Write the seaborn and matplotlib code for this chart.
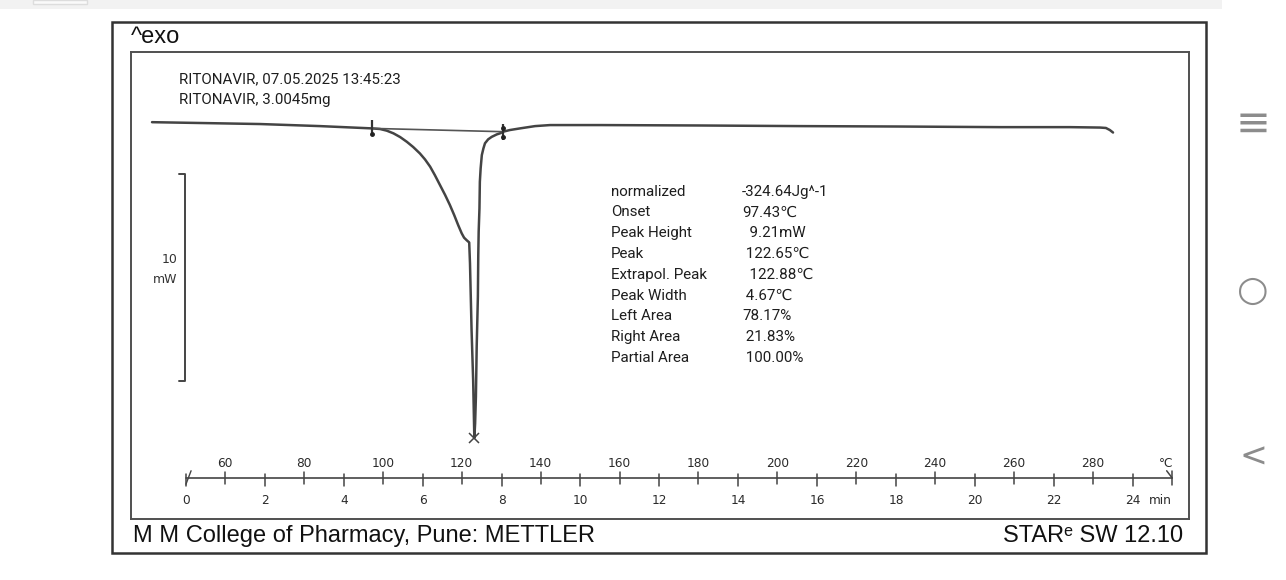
import matplotlib
matplotlib.use("Agg")
import matplotlib.pyplot as plt
import seaborn as sns
import pandas as pd
from matplotlib.patches import Rectangle

# DSC curve of ritonavir (temperature in C, heat flow in mW)
temp_c = [41.5, 53.7, 68.9, 84.1, 97.2, 99.3, 101.0, 102.7, 104.4, 106.1, 107.7, 109.4,
          110.7, 112.0, 113.2, 114.5, 115.8, 117.0, 118.1, 119.1, 120.0, 120.6, 121.3,
          121.9, 122.1, 122.5, 122.9, 123.2, 123.4, 123.6, 123.8, 124.1, 124.2, 124.3,
          124.5, 124.6, 124.8, 125.1, 125.5, 125.9, 126.7, 127.6, 128.9, 129.7, 130.5,
          132.2, 134.8, 138.6, 142.4, 155.1, 180.4, 205.8, 231.1, 256.5, 274.2, 281.8,
          283.3, 284.3, 285.1]
heat_flow_mw = [0.14, 0.10, 0.05, -0.05, -0.16, -0.19, -0.27, -0.40, -0.58, -0.81, -1.06, -1.37,
                -1.66, -2.01, -2.42, -2.90, -3.38, -3.86, -4.35, -4.83, -5.23, -5.44, -5.57,
                -5.67, -6.68, -9.90, -12.32, -15.12, -14.41, -13.13, -10.71, -8.29, -6.28, -5.15,
                -4.02, -2.74, -2.09, -1.45, -1.13, -0.88, -0.69, -0.57, -0.45, -0.40, -0.32,
                -0.24, -0.16, -0.05, 0.0, 0.0, -0.02, -0.05, -0.07, -0.10, -0.10, -0.12,
                -0.14, -0.24, -0.36]

# integration limits and peak
limit_temp = [97.2, 130.5]
limit_mw = [-0.16, -0.32]
peak_temp = 123.2
peak_mw = -15.12

# ruler: temperature and time (10 K/min from about 50.1 C)
temp_ticks = [60, 80, 100, 120, 140, 160, 180, 200, 220, 240, 260, 280]
time_ticks = [0, 2, 4, 6, 8, 10, 12, 14, 16, 18, 20, 22, 24]
start_temp = 50.1
heating_rate = 10

result_labels = ["normalized", "Onset", "Peak Height", "Peak", "Extrapol. Peak",
                 "Peak Width", "Left Area", "Right Area", "Partial Area"]
result_values = ["-324.64Jg^-1", "97.43\u2103", "  9.21mW", " 122.65\u2103", "  122.88\u2103",
                 " 4.67\u2103", "78.17%", " 21.83%", " 100.00%"]

header_lines = ["RITONAVIR, 07.05.2025 13:45:23", "RITONAVIR, 3.0045mg"]

sns.set_theme(style="white")
plt.rcParams['font.family'] = ['Roboto', 'DejaVu Sans']

W, H = 1286, 580
fig = plt.figure(figsize=(W / 100, H / 100), dpi=100)
fig.patch.set_facecolor("white")


def fx(px):
    return px / W


def fy(py):
    return 1 - py / H


# inner frame = the plotting axes
ax = fig.add_axes([fx(131), fy(519), fx(1189) - fx(131), fy(52) - fy(519)])
ax.set_xlim(36.17, 304.36)
ax.set_ylim(-19.03, 3.53)
ax.set_xticks([])
ax.set_yticks([])
for s in ax.spines.values():
    s.set_color("#505050")
    s.set_linewidth(1.4)

curve = pd.DataFrame({"temp": temp_c, "mw": heat_flow_mw})
sns.lineplot(data=curve, x="temp", y="mw", ax=ax, sort=False, estimator=None,
             color="#444444", linewidth=1.8)
ax.set_xlabel("")
ax.set_ylabel("")

# baseline between the limits and limit brackets
ax.plot(limit_temp, limit_mw, color="#555555", linewidth=1.2)
ax.plot(limit_temp, limit_mw, linestyle="none", marker="|", markersize=12,
        markeredgewidth=1.6, color="#333333")
ax.plot(limit_temp, [m - 0.25 for m in limit_mw], linestyle="none", marker="o",
        markersize=2.5, color="#222222")
ax.plot(limit_temp[1:], [limit_mw[1] + 0.2], linestyle="none", marker="o",
        markersize=2.5, color="#222222")
ax.plot([peak_temp], [peak_mw], linestyle="none", marker="x", markersize=7,
        markeredgewidth=1.1, color="#444444")

# scale bar 10 mW
bar_t = 49.9
ax.plot([bar_t - 1.6, bar_t, bar_t, bar_t - 1.6], [-2.37, -2.37, -12.37, -12.37],
        color="#444444", linewidth=1.4)
ax.text(bar_t - 1.9, -6.5, "10", ha="right", va="center", fontsize=9,
        family="DejaVu Sans", color="#333333")
ax.text(bar_t - 1.9, -7.45, "mW", ha="right", va="center", fontsize=9,
        family="DejaVu Sans", color="#333333")

# ruler
ruler_y = -17.05
end_t = start_temp + heating_rate * 25
ax.plot([start_temp, end_t], [ruler_y, ruler_y], color="#444444", linewidth=1.2)
for t in temp_ticks:
    ax.plot([t, t], [ruler_y + 0.3, ruler_y - 0.3], color="#444444", linewidth=1.1)
    ax.text(t, -16.33, str(t), ha="center", va="center", fontsize=8.7,
            family="DejaVu Sans", color="#2a2a2a")
for m in time_ticks:
    tt = start_temp + heating_rate * m
    ax.plot([tt, tt], [ruler_y + 0.2, ruler_y - 0.4], color="#444444", linewidth=1.1)
    ax.text(tt, -18.12, str(m), ha="center", va="center", fontsize=8.7,
            family="DejaVu Sans", color="#2a2a2a")
ax.plot([start_temp, start_temp + 1.3], [ruler_y - 0.3, ruler_y + 0.35], color="#444444", lw=1.0)
ax.plot([end_t, end_t], [ruler_y + 0.35, ruler_y - 0.35], color="#444444", lw=1.1)
ax.plot([end_t - 1.4, end_t], [ruler_y + 0.35, ruler_y], color="#444444", lw=1.1)
ax.text(end_t - 1.5, -16.33, "\u00b0C", ha="center", va="center", fontsize=8.7,
        family="DejaVu Sans", color="#2a2a2a")
ax.text(end_t, -18.12, "min", ha="right", va="center", fontsize=8.7,
        family="DejaVu Sans", color="#2a2a2a")

# header and result table
for i, line in enumerate(header_lines):
    fig.text(fx(179), fy(79 + 21 * i), line, ha="left", va="center", fontsize=10.9,
             color="#1e1e1e")
for i, (lab, val) in enumerate(zip(result_labels, result_values)):
    yy = fy(191.7 + 20.8 * i)
    fig.text(fx(611), yy, lab, ha="left", va="center", fontsize=10.9, color="#1e1e1e")
    fig.text(fx(742), yy, val, ha="left", va="center", fontsize=10.9, color="#1e1e1e")

# outer frame, title and footer
fig.add_artist(Rectangle((fx(112), fy(553)), fx(1206) - fx(112), fy(22) - fy(553),
                         transform=fig.transFigure, fill=False, edgecolor="#333333",
                         linewidth=1.8))
fig.text(fx(131), fy(37), "^exo", ha="left", va="center", fontsize=17,
         family="Liberation Sans", color="#111111")
fig.text(fx(133), fy(536), "M M College of Pharmacy, Pune: METTLER", ha="left", va="center",
         fontsize=17, family="Liberation Sans", color="#111111")
fig.text(fx(1183), fy(536), "STAR\u1d49 SW 12.10", ha="right", va="center", fontsize=17,
         family=["Liberation Sans", "DejaVu Sans"], color="#111111")

# phone screen furniture
fig.add_artist(Rectangle((0, fy(9)), fx(1222), fy(0) - fy(9), transform=fig.transFigure,
                         facecolor="#f2f2f2", edgecolor="none"))
fig.add_artist(Rectangle((fx(33), fy(4)), fx(87) - fx(33), fy(0) - fy(4),
                         transform=fig.transFigure, facecolor="#fafafa", edgecolor="#dddddd"))
fig.text(fx(1253), fy(124), "\u2261", ha="center", va="center", fontsize=30,
         family="DejaVu Sans", color="#8c8c8c")
fig.text(fx(1253), fy(291), "\u25cb", ha="center", va="center", fontsize=26,
         family="DejaVu Sans", color="#8c8c8c")
fig.text(fx(1253), fy(457), "<", ha="center", va="center", fontsize=24,
         family="DejaVu Sans", color="#8c8c8c")

fig.savefig("out.png", dpi=100, facecolor="white")
